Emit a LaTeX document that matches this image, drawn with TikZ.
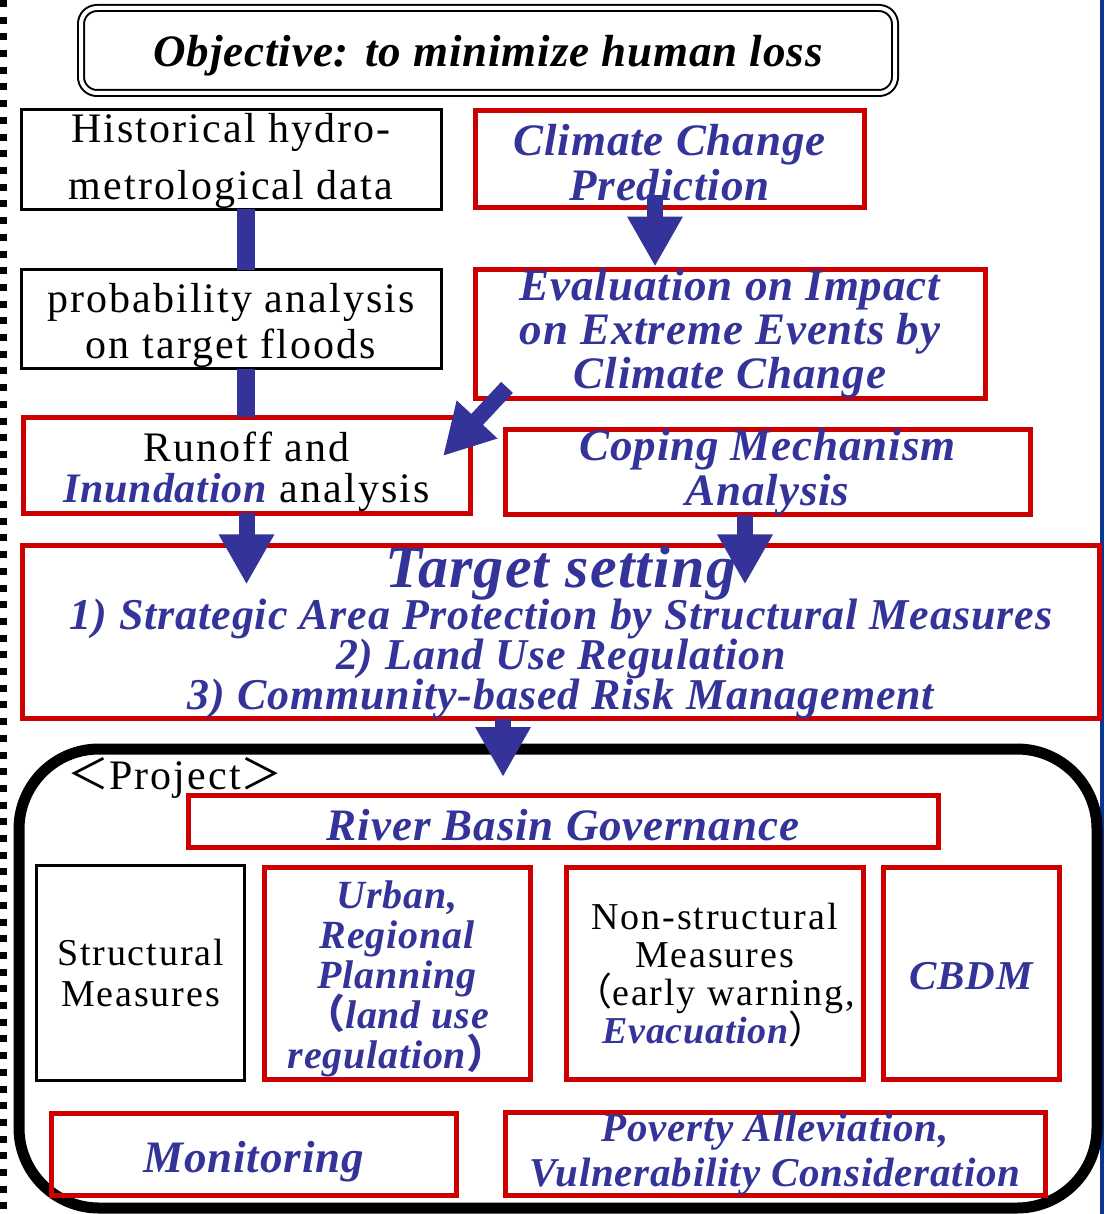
\documentclass[tikz,border=0pt]{standalone}
\usepackage{fontspec}
\setmainfont{Liberation Serif}[LetterSpace=5]
\newfontfamily\bifont{Liberation Serif}[LetterSpace=2]
\newfontfamily\cjk{Noto Sans CJK JP}
\usetikzlibrary{arrows.meta}
\definecolor{flowblue}{HTML}{333399}
\definecolor{boxred}{HTML}{CC0000}
\definecolor{edgeblue}{HTML}{0A3590}
\newcommand{\fsize}[2]{\fontsize{#1}{#2}\selectfont\lineskiplimit=-50pt}
\newcommand{\bi}{\bifont\bfseries\itshape\color{flowblue}}
% taller first line pushes the text block down inside its box
\newcommand{\lift}[1]{\rule{0pt}{\dimexpr0.69em+#1\relax}}

\begin{document}
\begin{tikzpicture}[x=0.5pt,y=-0.5pt,
    blackbox/.style={draw=black,line width=1.5pt,inner sep=0pt,outer sep=0pt,align=center},
    redbox/.style={draw=boxred,line width=2.5pt,inner sep=0pt,outer sep=0pt,align=center},
    bluetext/.style 2 args={text=flowblue,font=\bifont\bfseries\itshape\fsize{#1}{#2}},
    plaintext/.style 2 args={font=\fsize{#1}{#2}},
    fatarrow/.style={draw=flowblue,line width=8pt,-{Triangle[width=26pt,length=25pt]}},
    fatbar/.style={draw=flowblue,line width=9pt}]
  \useasboundingbox (0,0) rectangle (1106,1214);
  % page edges
  \draw[line width=3.5pt,dash pattern=on 3.5pt off 4.85pt] (3.5,0) -- (3.5,1214);
  \draw[edgeblue,line width=2pt] (1102,0) -- (1102,1214);

  \node[blackbox,minimum width=407pt,minimum height=42.5pt,rounded corners=8pt,
        double,double distance=2pt,line width=1pt,
        font=\bifont\bfseries\itshape\fsize{22.5pt}{24pt}] (goal) at (488,50.5)
        {\lift{5pt}Objective: to minimize human loss};

  \node[blackbox,minimum width=210pt,minimum height=50pt,plaintext={21pt}{28.5pt}] (hist) at (231,159.5)
        {\lift{2pt}Historical hydro-\\metrological data};
  \node[redbox,minimum width=194.5pt,minimum height=48.5pt,bluetext={22.5pt}{22.5pt}] (climate) at (669.5,159.5)
        {\lift{3pt}Climate Change\\Prediction};
  \node[blackbox,minimum width=210pt,minimum height=49.5pt,plaintext={21pt}{23pt}] (prob) at (231,319)
        {\lift{7pt}probability analysis\\on target floods};
  \node[redbox,minimum width=255pt,minimum height=63pt,bluetext={22.5pt}{22pt}] (eval) at (730,334)
        {Evaluation on Impact\\on Extreme Events by\\Climate Change};
  \node[redbox,minimum width=223.5pt,minimum height=48pt,plaintext={21pt}{20.5pt}] (runoff) at (246.5,465)
        {\lift{7pt}Runoff and\\{\bi Inundation} analysis};
  \node[redbox,minimum width=262.5pt,minimum height=41pt,bluetext={22.5pt}{22.5pt}] (coping) at (767.5,472)
        {Coping Mechanism\\Analysis};
  \node[redbox,minimum width=538.5pt,minimum height=83.5pt,bluetext={22pt}{20pt}] (target) at (561,632)
        {{\fsize{30pt}{30pt}Target setting}\\[1pt]
         1) Strategic Area Protection by Structural Measures\\
         2) Land Use Regulation\\
         3) Community-based Risk Management};

  % project frame
  \node[draw,line width=5.5pt,rounded corners=40pt,minimum width=539pt,minimum height=229.5pt,
        inner sep=0pt,outer sep=0pt] (project) at (558,978.5) {};
  \node[plaintext={21pt}{22pt},inner sep=0pt] (projlabel) at (175,778) {{\cjk ＜}Project{\cjk ＞}};
  \node[redbox,minimum width=375pt,minimum height=26pt,bluetext={22.5pt}{22pt}] (river) at (563,821)
        {\lift{4pt}River Basin Governance};
  \node[blackbox,minimum width=104pt,minimum height=107.5pt,plaintext={19pt}{20.5pt}] (struct) at (140.5,973)
        {Structural\\Measures};
  \node[redbox,minimum width=133pt,minimum height=106pt,bluetext={20pt}{20pt}] (urban) at (397,973)
        {\lift{6pt}Urban,\\Regional\\Planning\\{\cjk （}land use\\regulation{\cjk ）}};
  \node[redbox,minimum width=148.5pt,minimum height=106pt,plaintext={19pt}{19pt}] (nonstruct) at (714.5,973)
        {\lift{2pt}Non-structural\\Measures\\{\cjk （}early warning,\\{\bi Evacuation}{\cjk ）}};
  \node[redbox,minimum width=88pt,minimum height=106pt,bluetext={20.5pt}{20pt}] (cbdm) at (971,973)
        {\lift{3pt}CBDM};
  \node[redbox,minimum width=202.5pt,minimum height=41pt,bluetext={22.5pt}{22pt}] (monitor) at (253.5,1154)
        {\lift{8pt}Monitoring};
  \node[redbox,minimum width=270pt,minimum height=41pt,bluetext={20.5pt}{22.5pt}] (poverty) at (775,1154)
        {Poverty Alleviation,\\Vulnerability Consideration};

  % flow
  \draw[fatbar] ([xshift=7.5pt]hist.south) -- ([xshift=7.5pt]hist.south |- prob.north);
  \draw[fatbar] ([xshift=7.5pt]prob.south) -- ([xshift=7.5pt]prob.south |- runoff.north);
  \draw[fatarrow] ([xshift=-7.25pt,yshift=6.5pt]climate.south) -- ([xshift=-7.25pt,yshift=1.5pt]climate.south |- eval.north);
  \draw[fatarrow] ([xshift=16pt,yshift=5.5pt]eval.south west) -- ([xshift=-13.5pt,yshift=-19.5pt]runoff.north east);
  \draw[fatarrow] (runoff.south) -- ([yshift=-19.5pt]runoff.south |- target.north);
  \draw[fatarrow] ([xshift=-11.25pt]coping.south) -- ([xshift=-11.25pt,yshift=-19.5pt]coping.south |- target.north);
  \draw[fatarrow] ([xshift=-29pt]target.south) -- ([xshift=-29pt,yshift=-14pt]target.south |- project.north);
\end{tikzpicture}
\end{document}
